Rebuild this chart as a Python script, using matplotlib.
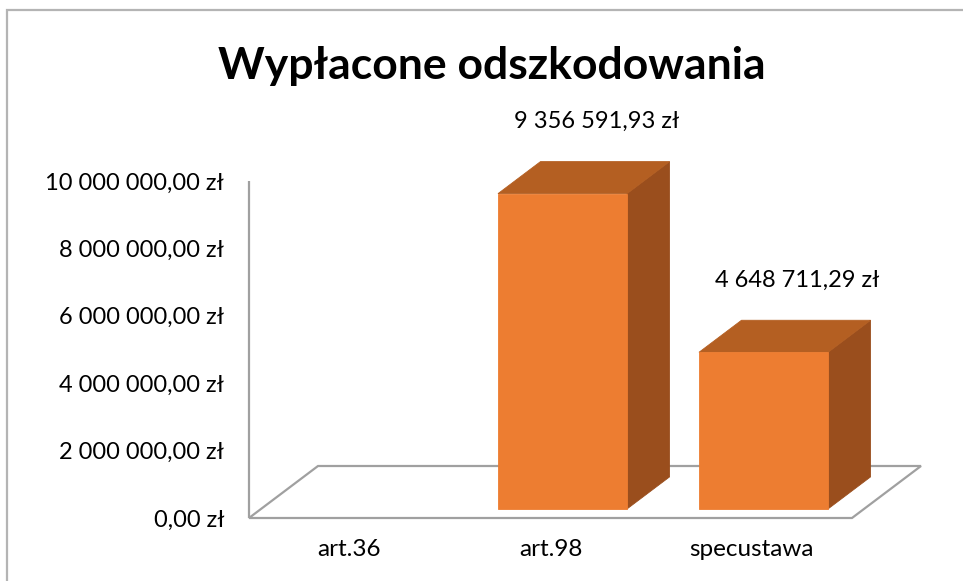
import matplotlib
matplotlib.use("Agg")
import matplotlib.pyplot as plt
from matplotlib.patches import Polygon, Rectangle

# Data
categories = ["art.36", "art.98", "specustawa"]
values = [0.0, 9356591.93, 4648711.29]
y_ticks = [0, 2e6, 4e6, 6e6, 8e6, 10e6]
title = "Wypłacone odszkodowania"

plt.rcParams['font.family'] = ['Lato', 'DejaVu Sans']


def pln(v):
    s = f"{v:,.2f}"
    return s.replace(",", " ").replace(".", ",") + " zł"


W, H = 963, 581
fig = plt.figure(figsize=(W / 100, H / 100), dpi=100)
fig.patch.set_facecolor("white")

# outer chart frame (continues past right and bottom edges)
fig.patches.append(Rectangle((7 / W, -0.2), 1.5, 1.2 - 10 / H,
                             transform=fig.transFigure, fill=False,
                             edgecolor="#B4B4B4", lw=1.6, zorder=0))

# plot area = front plane of the 3D floor
ax = fig.add_axes([249 / W, (H - 518) / H, 603 / W, 337 / H])
ax.set_xlim(-0.5, 2.5)
ax.set_ylim(0, 10e6)
ax.set_facecolor("none")
for sp in ax.spines.values():
    sp.set_visible(False)

# 3D depth of the floor in data units
DX = 69 / 201
DY = 52 / 337 * 10e6
F0, F1 = 0.174, 0.79     # bar position inside the floor depth
BW = 0.642               # bar width

grid_c = "#A0A0A0"
floor = Polygon([(-0.5, 0), (-0.5 + DX, DY), (2.5 + DX, DY), (2.5, 0)],
                closed=True, fill=False, edgecolor=grid_c, lw=1.6,
                clip_on=False, zorder=1)
ax.add_patch(floor)
ax.plot([-0.5, -0.5], [0, 10e6], color=grid_c, lw=1.6, clip_on=False,
        zorder=1, solid_capstyle="butt")

front_c = "#ED7D31"
top_c = "#B45F22"
side_c = "#9A4E1D"

for i, v in enumerate(values):
    if v <= 0:
        continue
    x0 = i - BW / 2 + F0 * DX
    y0 = F0 * DY
    x1 = x0 + BW
    y1 = y0 + v
    dx = (F1 - F0) * DX
    dy = (F1 - F0) * DY
    side = [(x1, y0), (x1 + dx, y0 + dy), (x1 + dx, y1 + dy), (x1, y1)]
    top = [(x0, y1), (x1, y1), (x1 + dx, y1 + dy), (x0 + dx, y1 + dy)]
    front = [(x0, y0), (x1, y0), (x1, y1), (x0, y1)]
    for pts, c in ((side, side_c), (top, top_c), (front, front_c)):
        ax.add_patch(Polygon(pts, closed=True, facecolor=c, edgecolor=c,
                             lw=0.6, clip_on=False, zorder=3))
    ax.annotate(pln(v), xy=(x0 + BW / 2 + dx, y1 + dy),
                xytext=(-6, 29), textcoords="offset points",
                ha="center", va="center", fontsize=17, color="black",
                annotation_clip=False, zorder=4)

ax.set_yticks(y_ticks)
ax.set_yticklabels([pln(t) for t in y_ticks])
ax.set_xticks(range(len(categories)))
ax.set_xticklabels(categories)
ax.tick_params(axis="y", length=0, pad=18, labelsize=17, labelcolor="black")
ax.tick_params(axis="x", length=0, pad=15, labelsize=17.5, labelcolor="black")

fig.text(492 / W, 1 - 66 / H, title, ha="center", va="center",
         fontsize=32, fontweight="bold", color="black")

fig.savefig("out.png", dpi=100, facecolor="white")
